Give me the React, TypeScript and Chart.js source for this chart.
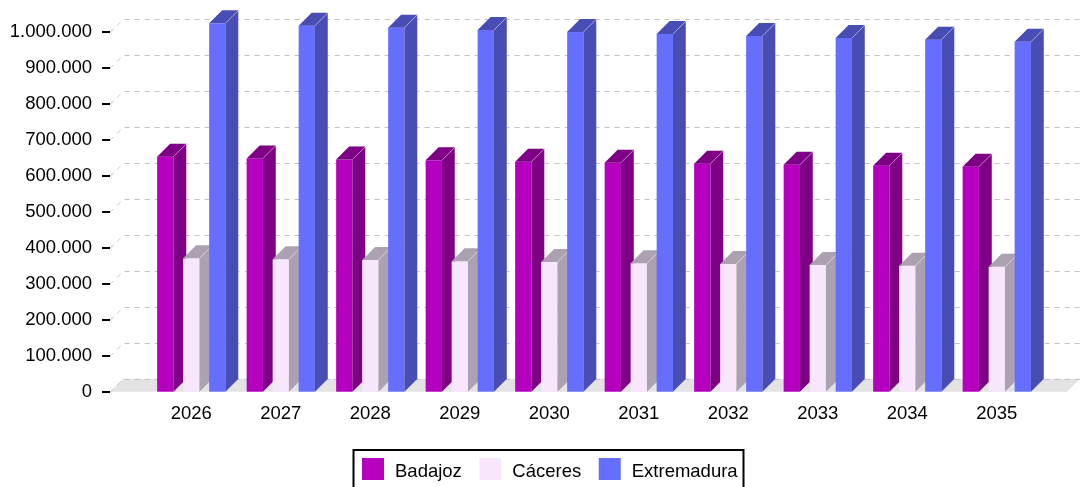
import React, { useEffect, useRef } from 'react';
import { Chart, registerables } from 'chart.js';

Chart.register(...registerables);

// ---- data ----
const categories = ['2026', '2027', '2028', '2029', '2030', '2031', '2032', '2033', '2034', '2035'];
const seriesNames = ['Badajoz', 'Cáceres', 'Extremadura'];
const badajoz = [652800, 648000, 645000, 642800, 638900, 636000, 633300, 630600, 627800, 625000];
const caceres = [370500, 367800, 365800, 362200, 360300, 356700, 354700, 352000, 350000, 347000];
const extremadura = [1023300, 1016700, 1011000, 1004700, 999000, 993600, 988000, 982500, 977800, 972000];
const yTickStep = 100000;
const yMax = 1000000;

// ---- styles ----
const frontColors = ['#B400BE', '#F7E6FC', '#666EFF'];
const sideColors = ['#7E0085', '#ACA1B0', '#474DB2'];
const FONT = '"Liberation Sans", Arial, Helvetica, sans-serif';
const FONT_SIZE = 18.5;
const DEPTH = 13;
const W = 1080;
const H = 487;

function fmt(v: number): string {
  return String(Math.round(v)).replace(/\B(?=(\d{3})+(?!\d))/g, '.');
}

const threeDPlugin = {
  id: 'threeD',
  beforeDatasetsDraw(chart: any) {
    const ctx: CanvasRenderingContext2D = chart.ctx;
    const ys = chart.scales.y;
    const area = chart.chartArea;
    const fx0 = area.left - 36.5;
    const fx1 = W - DEPTH;
    const yb = ys.getPixelForValue(0);
    ctx.save();
    // floor
    ctx.fillStyle = '#e3e3e3';
    ctx.beginPath();
    ctx.moveTo(fx0, yb);
    ctx.lineTo(fx0 + DEPTH, yb - DEPTH);
    ctx.lineTo(fx1 + DEPTH, yb - DEPTH);
    ctx.lineTo(fx1, yb);
    ctx.closePath();
    ctx.fill();
    // gridlines (left wall + back wall)
    ctx.strokeStyle = '#c2c2c2';
    ctx.lineWidth = 1;
    ctx.setLineDash([5, 5]);
    for (const t of ys.ticks) {
      const y = Math.round(ys.getPixelForValue(t.value)) + 0.5;
      ctx.beginPath();
      ctx.moveTo(fx0, y);
      ctx.lineTo(fx0 + DEPTH, y - DEPTH);
      ctx.lineTo(fx1 + DEPTH, y - DEPTH);
      ctx.stroke();
    }
    ctx.setLineDash([]);
    // tick marks
    ctx.fillStyle = '#000';
    for (const t of ys.ticks) {
      const y = Math.round(ys.getPixelForValue(t.value));
      ctx.fillRect(fx0 - 8, y - 1, 8, 2);
    }
    // bars
    const metas = chart.data.datasets.map((_: any, i: number) => chart.getDatasetMeta(i));
    for (let c = 0; c < categories.length; c++) {
      metas.forEach((meta: any, d: number) => {
        const el = meta.data[c];
        if (!el) return;
        const p = el.getProps(['x', 'y', 'base', 'width'], true);
        const l = p.x - p.width / 2;
        const r = p.x + p.width / 2;
        const top = p.y;
        const base = p.base;
        // front
        ctx.fillStyle = frontColors[d];
        ctx.fillRect(l, top, r - l, base - top);
        // side
        ctx.fillStyle = sideColors[d];
        ctx.beginPath();
        ctx.moveTo(r, top);
        ctx.lineTo(r + DEPTH, top - DEPTH);
        ctx.lineTo(r + DEPTH, base - DEPTH);
        ctx.lineTo(r, base);
        ctx.closePath();
        ctx.fill();
        // top
        ctx.beginPath();
        ctx.moveTo(l, top);
        ctx.lineTo(l + DEPTH, top - DEPTH);
        ctx.lineTo(r + DEPTH, top - DEPTH);
        ctx.lineTo(r, top);
        ctx.closePath();
        ctx.fill();
        // subtle light edges
        ctx.strokeStyle = 'rgba(255,255,255,0.35)';
        ctx.lineWidth = 1;
        ctx.beginPath();
        ctx.moveTo(r, top);
        ctx.lineTo(r + DEPTH, top - DEPTH);
        ctx.lineTo(r + DEPTH, base - DEPTH);
        ctx.stroke();
      });
    }
    ctx.restore();
    return false;
  },
  afterDraw(chart: any) {
    const ctx: CanvasRenderingContext2D = chart.ctx;
    ctx.save();
    // legend frame
    ctx.strokeStyle = '#000';
    ctx.lineWidth = 2;
    ctx.strokeRect(353.5, 450, 390, 60);
    ctx.font = `${FONT_SIZE}px ${FONT}`;
    ctx.textBaseline = 'alphabetic';
    ctx.textAlign = 'left';
    let x = 362;
    chart.data.datasets.forEach((ds: any) => {
      ctx.fillStyle = ds.backgroundColor;
      ctx.fillRect(x, 458, 22, 22);
      x += 22 + 11;
      ctx.fillStyle = '#000';
      ctx.fillText(ds.label, x, 477);
      x += ctx.measureText(ds.label).width + 17.5;
    });
    ctx.restore();
  },
};

export default function App() {
  const ref = useRef<HTMLCanvasElement | null>(null);
  useEffect(() => {
    if (!ref.current) return;
    const chart = new Chart(ref.current, {
      type: 'bar',
      data: {
        labels: categories,
        datasets: [badajoz, caceres, extremadura].map((vals, i) => ({
          label: seriesNames[i],
          data: vals,
          backgroundColor: frontColors[i],
          categoryPercentage: 0.8715,
          barPercentage: 0.627,
        })),
      },
      options: {
        animation: false,
        responsive: false,
        events: [],
        layout: { padding: { top: 31.7, right: W - 1041.55, left: 0, bottom: 0 } },
        plugins: {
          legend: { display: false },
          tooltip: { enabled: false },
        },
        scales: {
          x: {
            type: 'category',
            offset: true,
            grid: { display: false, drawTicks: false },
            border: { display: false },
            ticks: {
              color: '#000',
              font: { family: FONT, size: FONT_SIZE },
              padding: 11,
              maxRotation: 0,
              autoSkip: false,
            },
            afterFit: (s: any) => { s.height = H - 391.7; },
          },
          y: {
            min: 0,
            max: yMax,
            grid: { display: false, drawTicks: false },
            border: { display: false },
            ticks: {
              stepSize: yTickStep,
              color: '#000',
              font: { family: FONT, size: FONT_SIZE },
              padding: 54.5,
              callback: (v: any) => fmt(Number(v)),
            },
            afterFit: (s: any) => {
              s.width = 146.55;
              s.paddingTop = 10;
              s.paddingBottom = 10;
            },
          },
        },
      },
      plugins: [threeDPlugin],
    } as any);
    return () => chart.destroy();
  }, []);
  return (
    <div style={{ position: 'fixed', left: 0, top: 0, width: W, height: H, background: '#fff' }}>
      <canvas ref={ref} width={W} height={H} style={{ width: W, height: H, display: 'block' }} />
    </div>
  );
}
